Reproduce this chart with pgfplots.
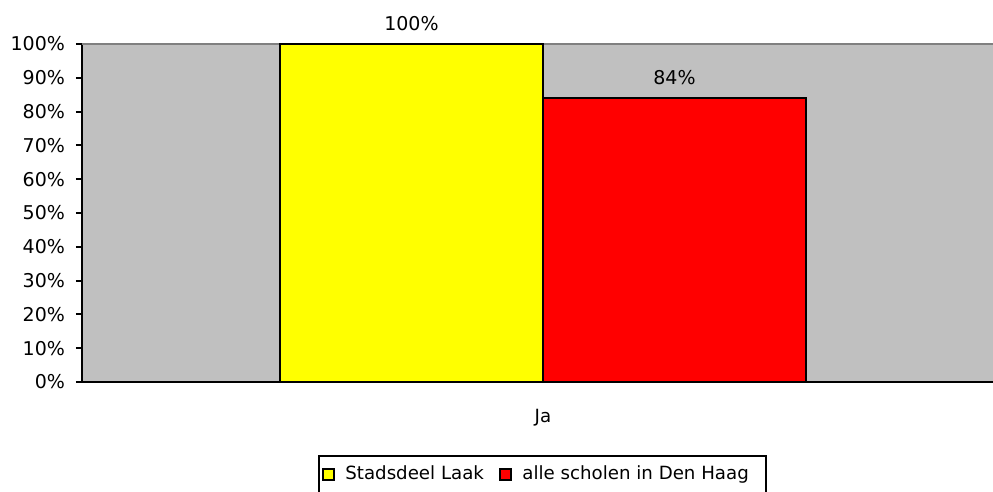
\documentclass[border=0pt]{standalone}
\usepackage{fontspec}
\setmainfont{DejaVu Sans}
\usepackage{pgfplots}
\pgfplotsset{compat=1.18}
\definecolor{plotgray}{HTML}{C0C0C0}
\definecolor{framegray}{HTML}{808080}
\definecolor{xlyellow}{HTML}{FFFF00}
\definecolor{xlred}{HTML}{FF0000}

\begin{document}
\begin{tikzpicture}[font=\fontsize{9.5}{11}\selectfont]
\begin{axis}[
  at={(0,0)}, anchor=south west,
  scale only axis,
  width=455.5pt, height=169pt,
  xmin=-1.012, xmax=0.988,
  ymin=0, ymax=100,
  axis background/.style={fill=plotgray},
  axis x line*=bottom,
  axis y line*=left,
  axis line style={black, line width=1pt, -},
  ybar,
  bar width=131.5pt,
  ytick={0,10,...,100},
  yticklabel={\pgfmathprintnumber{\tick}\%},
  /pgf/number format/assume math mode=true,
  xtick={0},
  xticklabels={Ja},
  extra x ticks={-1.012},
  extra x tick labels={},
  extra x tick style={major tick length=2pt, tick style={black, line width=1pt}},
  tick align=outside,
  major tick length=3pt,
  ytick style={black, line width=1pt},
  xtick style={draw=none},
  yticklabel style={xshift=-2pt},
  xticklabel style={yshift=-7pt, font=\fontsize{9.1}{11}\selectfont},
  nodes near coords={\pgfmathprintnumber{\pgfplotspointmeta}\%},
  nodes near coords style={yshift=3pt, black},
  clip=false,
  legend columns=2,
  legend style={at={(0.259,-0.216)}, anchor=north west, draw=black, line width=1pt,
    inner xsep=1.5pt, inner ysep=3pt, font=\fontsize{9.1}{11}\selectfont,
    /tikz/every odd column/.append style={column sep=0pt},
    /tikz/every even column/.append style={column sep=5.5pt}},
  legend image code/.code={%
    \draw[#1, line width=0.8pt] (0pt,-2.8pt) rectangle (5.6pt,2.8pt);
    \path[draw=none, fill=none] (0pt,0pt) -- (9.3pt,0pt);},
]
\draw[framegray, line width=1pt] (rel axis cs:0,1) -- (rel axis cs:1,1);
\addplot[fill=xlyellow, draw=black, line width=1pt, bar shift=-65.75pt] coordinates {(0,100)};
\addplot[fill=xlred, draw=black, line width=1pt, bar shift=65.75pt] coordinates {(0,84)};
\legend{Stadsdeel Laak, alle scholen in Den Haag\rule{5pt}{0pt}}
\end{axis}
\pgfresetboundingbox
\path (-41pt,-55pt) rectangle (455.5pt,191pt);
\end{tikzpicture}
\end{document}
